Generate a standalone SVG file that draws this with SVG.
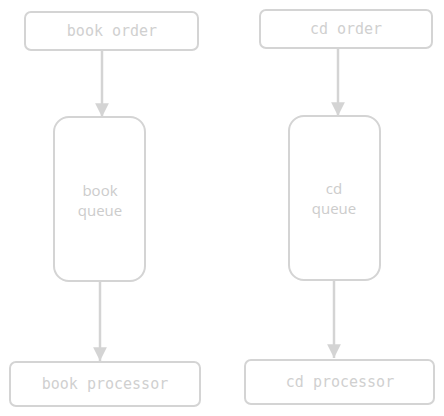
<svg xmlns="http://www.w3.org/2000/svg" width="444" height="416" viewBox="0 0 444 416">
<style>
.box{fill:#ffffff;stroke:#d4d4d4;stroke-width:2}
.mono{font-family:"DejaVu Sans Mono","Liberation Mono",monospace;font-size:15px;fill:#d0d0d0;text-anchor:middle;dominant-baseline:central}
.sans{font-family:"Open Sans","Noto Sans",sans-serif;font-size:15px;fill:#cccccc;text-anchor:middle;dominant-baseline:central}
.edge{stroke:#d4d4d4;stroke-width:2.5;fill:none}
</style>
<defs>
<marker id="ah" viewBox="0 0 10 10" refX="10" refY="5" markerWidth="5.5" markerHeight="5.5" orient="auto" markerUnits="strokeWidth">
<path d="M0,0 L10,5 L0,10 z" fill="#d4d4d4"/>
</marker>
</defs>
<rect width="444" height="416" fill="#ffffff"/>
<g id="connectors">
<line class="edge" x1="102" y1="50" x2="102" y2="117" marker-end="url(#ah)"/>
<line class="edge" x1="338" y1="48" x2="338" y2="116" marker-end="url(#ah)"/>
<line class="edge" x1="100" y1="281" x2="100" y2="361" marker-end="url(#ah)"/>
<line class="edge" x1="334" y1="280" x2="334" y2="358" marker-end="url(#ah)"/>
</g>
<g id="book-order">
<rect class="box" x="25" y="12" width="173" height="38" rx="6"/>
<text class="mono" x="112" y="31">book order</text>
</g>
<g id="cd-order">
<rect class="box" x="260" y="10" width="172" height="38" rx="6"/>
<text class="mono" x="346" y="29">cd order</text>
</g>
<g id="book-queue">
<rect class="box" x="54" y="117" width="91" height="164" rx="15"/>
<text class="sans" x="100" y="190">book</text>
<text class="sans" x="100" y="210">queue</text>
</g>
<g id="cd-queue">
<rect class="box" x="289" y="116" width="91" height="164" rx="15"/>
<text class="sans" x="334" y="188">cd</text>
<text class="sans" x="334" y="208">queue</text>
</g>
<g id="book-processor">
<rect class="box" x="10" y="362" width="190" height="44" rx="6"/>
<text class="mono" x="105" y="384">book processor</text>
</g>
<g id="cd-processor">
<rect class="box" x="245" y="360" width="189" height="44" rx="6"/>
<text class="mono" x="340" y="382">cd processor</text>
</g>
</svg>
